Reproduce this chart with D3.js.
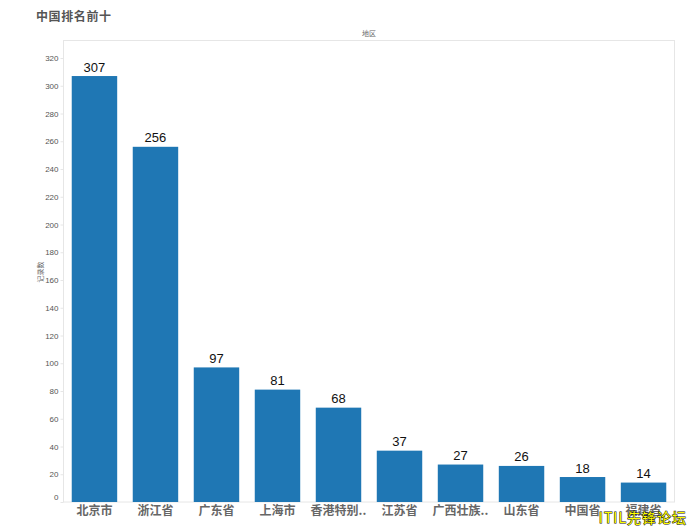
<!DOCTYPE html>
<html>
<head>
<meta charset="utf-8">
<script src="https://cdn.jsdelivr.net/npm/d3@7"></script>
<style>
  html, body { margin: 0; padding: 0; background: #fff; }
  svg { display: block; }
  text { font-family: "Noto Sans CJK SC", "Liberation Sans", sans-serif; }
</style>
</head>
<body>
<div id="chart"></div>
<script>
const regions = ["北京市", "浙江省", "广东省", "上海市", "香港特别..", "江苏省", "广西壮族..", "山东省", "中国省", "福建省"]
const counts = [307, 256, 97, 81, 68, 37, 27, 26, 18, 14]
const yTicks = d3.range(0, 321, 20)

const title = "中国排名前十"
const xTitle = "地区"
const yTitle = "记录数"
const watermark = "ITIL先锋论坛"

const width = 687, height = 527
const margin = { top: 40.5, right: 12.5, bottom: 25, left: 63.5 }

const svg = d3.select("#chart").append("svg")
  .attr("width", width)
  .attr("height", height)

const x = d3.scaleBand()
  .domain(regions)
  .range([margin.left, width - margin.right])
  .paddingInner(0.255)
  .paddingOuter(0.135)

const y = d3.scaleLinear()
  .domain([0, 320])
  .range([height - margin.bottom, 58])

// plot frame
svg.append("rect")
  .attr("x", margin.left)
  .attr("y", margin.top)
  .attr("width", width - margin.left - margin.right)
  .attr("height", height - margin.top - margin.bottom)
  .attr("fill", "none")
  .attr("stroke", "#e6e6e6")

svg.selectAll(".bar")
  .data(regions)
  .enter().append("rect")
  .attr("class", "bar")
  .attr("x", (d) => x(d))
  .attr("y", (d, i) => y(counts[i]))
  .attr("width", x.bandwidth())
  .attr("height", (d, i) => y(0) - y(counts[i]))
  .attr("fill", "#1f77b4")

svg.selectAll(".value")
  .data(regions)
  .enter().append("text")
  .attr("class", "value")
  .attr("x", (d) => x(d) + x.bandwidth() / 2)
  .attr("y", (d, i) => y(counts[i]) - 4.5)
  .attr("text-anchor", "middle")
  .attr("font-size", 13)
  .style("font-family", '"Liberation Sans", sans-serif')
  .attr("fill", "#111")
  .text((d, i) => counts[i])

const yAxis = svg.append("g")
  .attr("transform", "translate(" + margin.left + ",0)")
  .call(d3.axisLeft(y).tickValues(yTicks).tickSize(3).tickPadding(2))
yAxis.select(".domain").remove()
yAxis.selectAll("line").attr("stroke", "#e6e6e6")
yAxis.selectAll("text")
  .attr("font-size", 8)
  .style("font-family", '"Liberation Sans", sans-serif')
  .attr("fill", "#555")
// the zero label sits a little above its tick
yAxis.selectAll("text").filter((d) => d === 0).attr("dy", "-0.3em")

const xAxis = svg.append("g")
  .attr("transform", "translate(0," + y(0) + ")")
  .call(d3.axisBottom(x).tickSize(0).tickPadding(4))
xAxis.select(".domain").remove()
xAxis.selectAll("text")
  .attr("font-size", 12)
  .attr("font-weight", 700)
  .attr("fill", "#666")

svg.append("text")
  .attr("x", 36)
  .attr("y", 21)
  .attr("font-size", 12)
  .attr("font-weight", 700)
  .attr("letter-spacing", 0.6)
  .attr("fill", "#555")
  .text(title)

svg.append("text")
  .attr("x", 369)
  .attr("y", 36)
  .attr("text-anchor", "middle")
  .attr("font-size", 7)
  .attr("fill", "#666")
  .text(xTitle)

svg.append("text")
  .attr("transform", "translate(43,272) rotate(-90)")
  .attr("text-anchor", "middle")
  .attr("font-size", 7)
  .attr("fill", "#666")
  .text(yTitle)

svg.append("text")
  .attr("x", 687)
  .attr("y", 523)
  .attr("text-anchor", "end")
  .attr("font-size", 14)
  .attr("letter-spacing", 1)
  .attr("fill", "#ffff00")
  .attr("stroke", "#111")
  .attr("stroke-width", 1)
  .attr("paint-order", "stroke")
  .text(watermark)
</script>
</body>
</html>
